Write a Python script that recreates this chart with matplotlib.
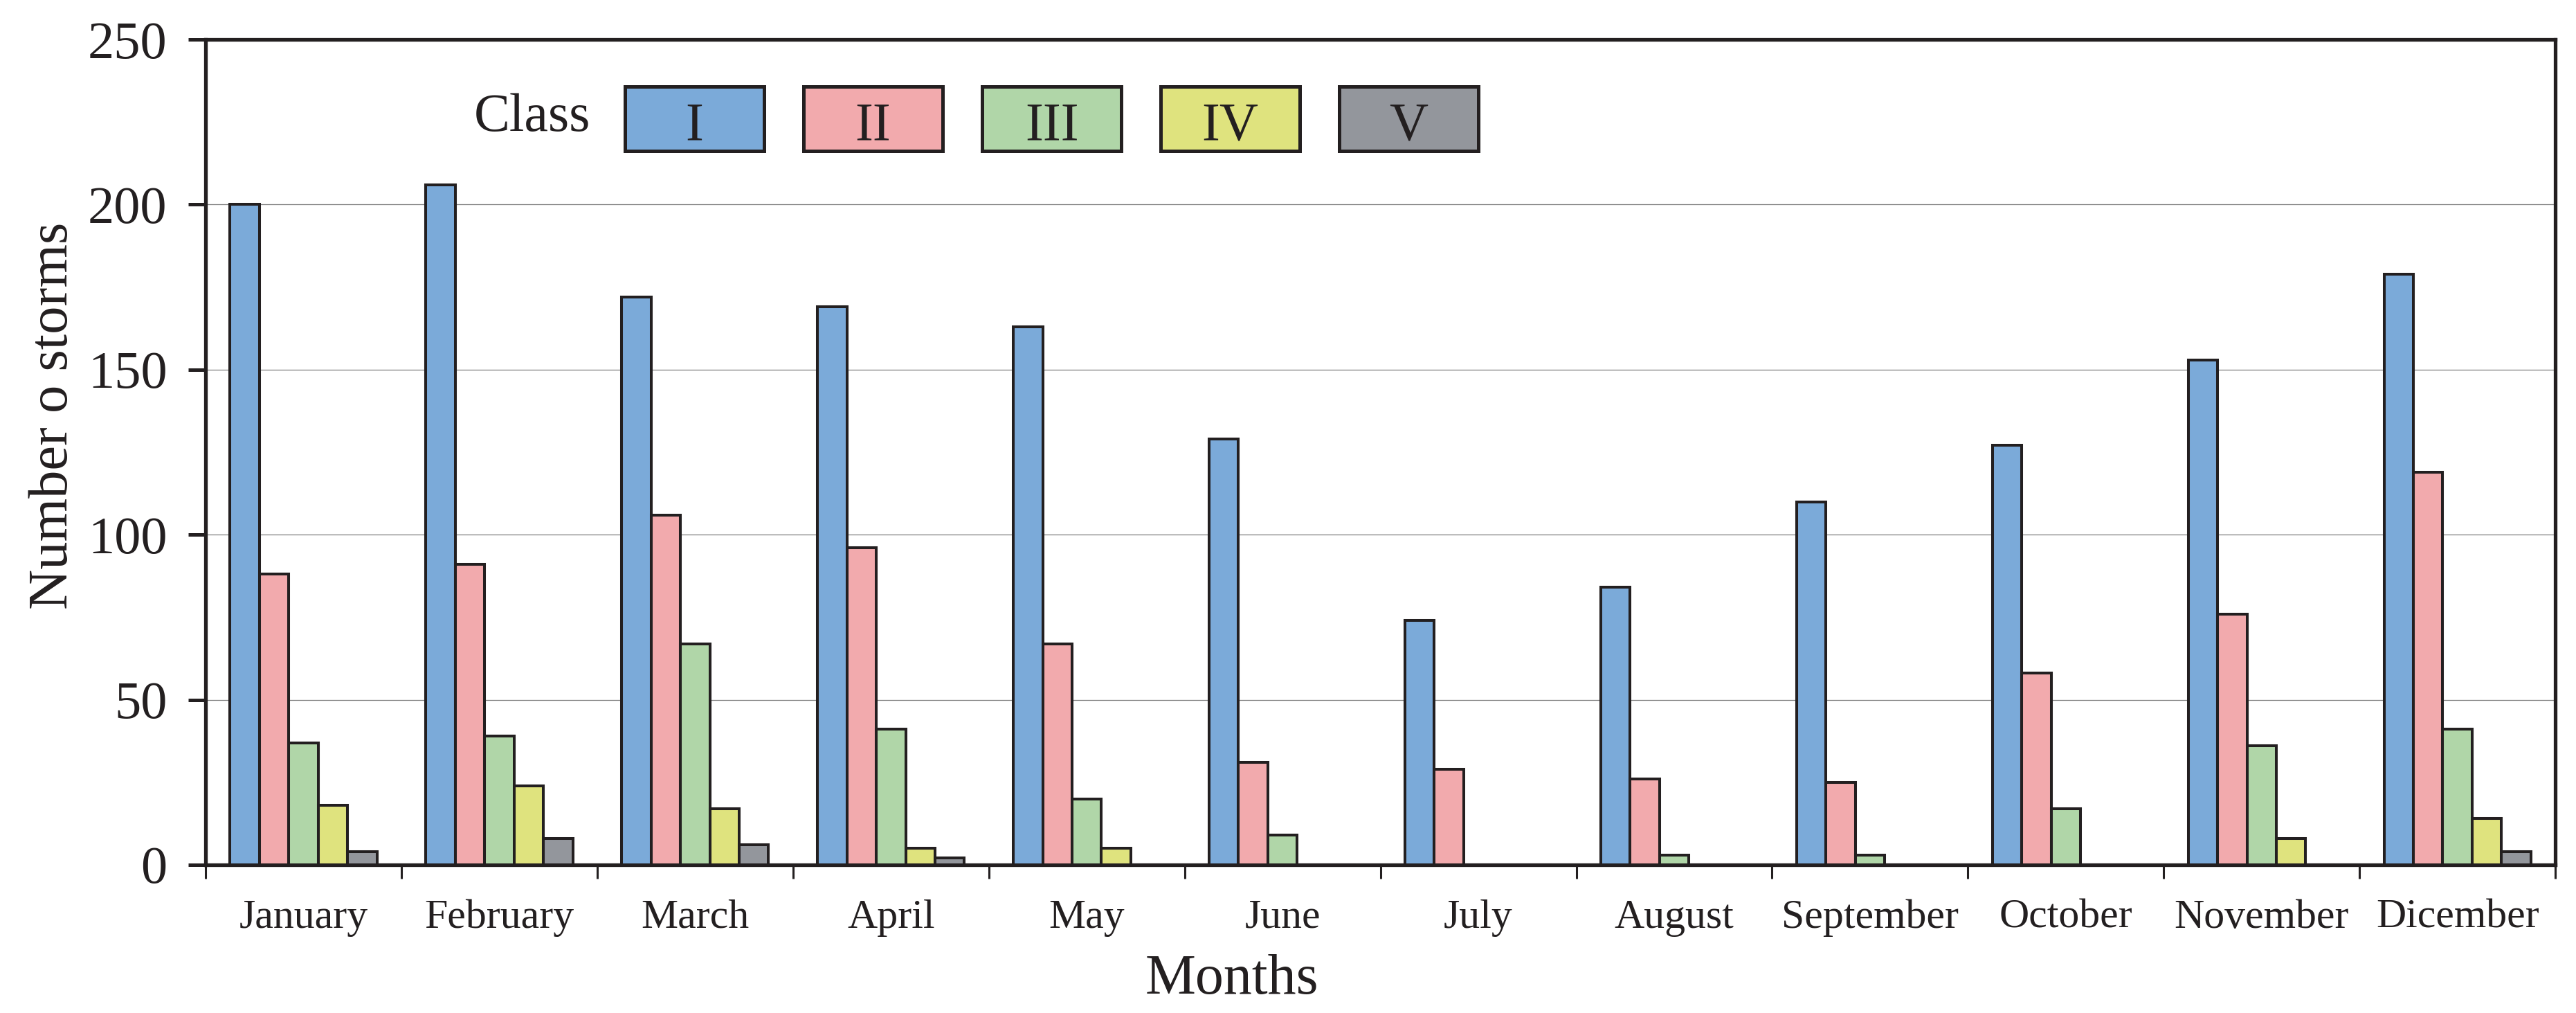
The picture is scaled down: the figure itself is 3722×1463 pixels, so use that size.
import numpy as np
import matplotlib
matplotlib.use("Agg")
import matplotlib.pyplot as plt
from matplotlib.patches import Rectangle

months = ["January", "February", "March", "April", "May", "June", "July",
          "August", "September", "October", "November", "Dicember"]
classes = ["I", "II", "III", "IV", "V"]
class_I = [200, 206, 172, 169, 163, 129, 74, 84, 110, 127, 153, 179]
class_II = [88, 91, 106, 96, 67, 31, 29, 26, 25, 58, 76, 119]
class_III = [37, 39, 67, 41, 20, 9, 0, 3, 3, 17, 36, 41]
class_IV = [18, 24, 17, 5, 5, 0, 0, 0, 0, 0, 8, 14]
class_V = [4, 8, 6, 2, 0, 0, 0, 0, 0, 0, 0, 4]
yticks = [0, 50, 100, 150, 200, 250]

colors = ["#7BAAD9", "#F2AAAD", "#B0D6A8", "#DFE37E", "#93969C"]
ink = "#231F20"

plt.rcParams['font.family'] = ['Liberation Serif', 'DejaVu Serif']
plt.rcParams['text.color'] = ink

fig = plt.figure(figsize=(37.23, 14.63), dpi=100)
ax = fig.add_axes([0.0798, 0.1463, 0.9119, 0.8147])

x = np.arange(len(months))
w = 0.15
series = [class_I, class_II, class_III, class_IV, class_V]
for k, vals in enumerate(series):
    ax.bar(x + (k - 2) * w, vals, width=w, color=colors[k],
           edgecolor=ink, linewidth=2.9, zorder=3)

ax.set_xlim(-0.5, len(months) - 0.5)
ax.set_ylim(0, 250)
ax.set_yticks(yticks)
ax.yaxis.grid(True, color="#7f7f7f", linewidth=0.9, zorder=0)
ax.set_axisbelow(True)

ax.set_xticks(x)
ax.set_xticklabels(months, fontsize=43)
ax.set_xticks(np.arange(-0.5, len(months)), minor=True)
ax.tick_params(axis='x', which='major', length=0, pad=36)
ax.tick_params(axis='x', which='minor', length=14.4, width=2.2, direction='out', color=ink)
ax.tick_params(axis='y', length=18, width=3.6, direction='out', labelsize=55,
               pad=22, color=ink, labelcolor=ink)
ax.tick_params(axis='x', labelcolor=ink)

for s in ax.spines.values():
    s.set_linewidth(3.8)
    s.set_color(ink)

ax.set_ylabel("Number o storms", fontsize=58, color=ink, va='baseline')
ax.yaxis.set_label_coords(-0.059, 0.544)
ax.set_xlabel("Months", fontsize=59, color=ink, ha='left', va='baseline')
ax.xaxis.set_label_coords(0.400, -0.156)

# legend drawn as labelled boxes
ax.text(0.1638, 0.889, "Class", transform=ax.transAxes, ha='right', va='baseline',
        fontsize=56, color=ink)
box_w, box_h = 0.0592, 0.078
for k, name in enumerate(classes):
    left = 0.1785 + k * 0.076
    ax.add_patch(Rectangle((left, 0.865), box_w, box_h, transform=ax.transAxes,
                           facecolor=colors[k], edgecolor=ink, linewidth=3.6,
                           zorder=5, clip_on=False))
    ax.text(left + box_w / 2, 0.879, name, transform=ax.transAxes, ha='center',
            va='baseline', fontsize=56, color=ink, zorder=6)

fig.savefig("out.png", dpi=100)
